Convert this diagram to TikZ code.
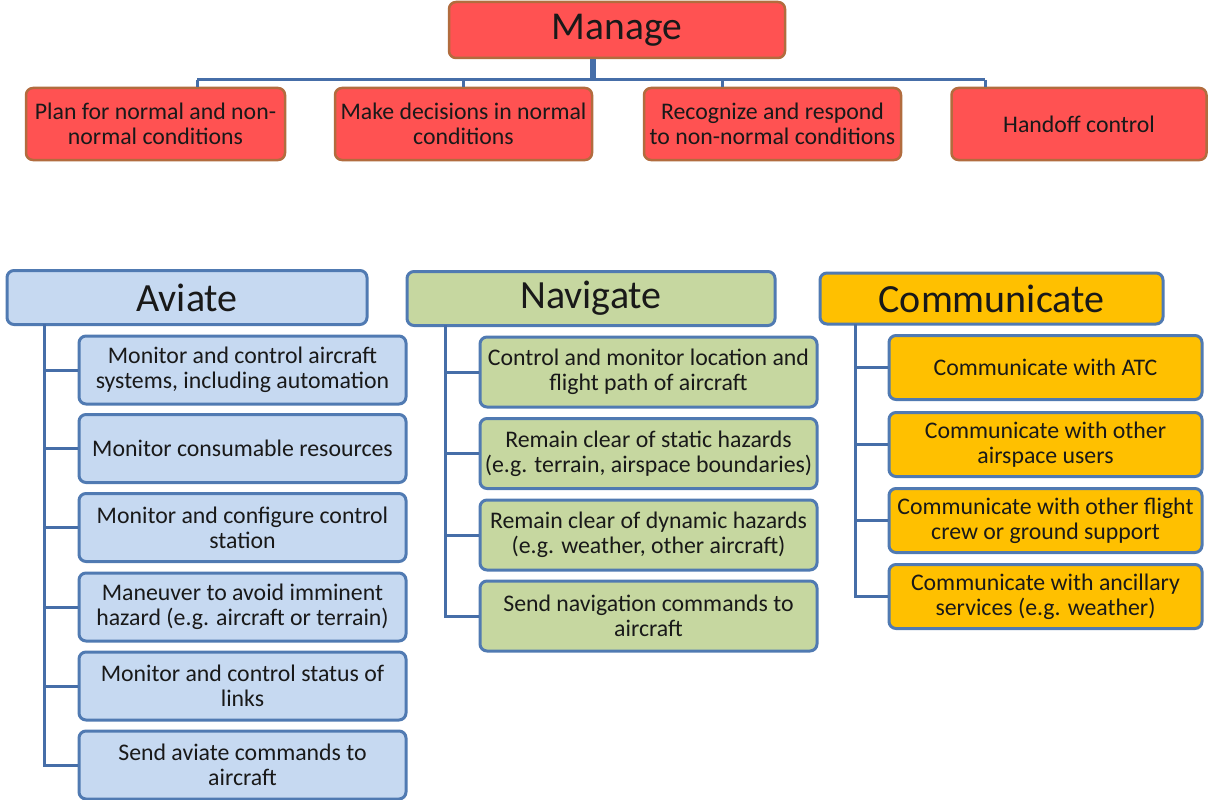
\documentclass[tikz,border=0pt]{standalone}
\usepackage{fontspec}
\setmainfont{Carlito}
\definecolor{redfill}{RGB}{255,82,82}
\definecolor{redline}{RGB}{178,108,62}
\definecolor{bluefill}{RGB}{198,217,241}
\definecolor{greenfill}{RGB}{198,215,160}
\definecolor{orangefill}{RGB}{255,192,0}
\definecolor{boxline}{RGB}{80,122,178}
\definecolor{conn}{RGB}{70,110,168}
\definecolor{txt}{RGB}{25,25,25}
\begin{document}
\begin{tikzpicture}[x=1pt,y=-1pt,
  base/.style={rounded corners=7pt, align=center, inner sep=0pt, text=txt},
  redbox/.style={base, fill=redfill, draw=redline, line width=2.5pt, font=\fontsize{23.8}{24.5}\selectfont},
  bigred/.style={redbox, font=\fontsize{39.5}{40}\selectfont},
  head/.style={base, draw=boxline, line width=3pt, font=\fontsize{40}{40}\selectfont},
  child/.style={base, draw=boxline, line width=3pt, font=\fontsize{23.8}{25}\selectfont},
  link/.style={draw=conn, line width=3pt},
  stem/.style={draw=conn, line width=6pt}
]
\useasboundingbox (0,0) rectangle (1208,800);
\fill[white] (0,0) rectangle (1208,800);

% ---- Manage ----
\node[bigred, minimum width=336pt, minimum height=56pt] (manage) at (617,30) {Manage};
\node[redbox, minimum width=259pt, minimum height=72pt] (m1) at (155.5,124) {Plan for normal and non-\\normal conditions};
\node[redbox, minimum width=257pt, minimum height=72pt] (m2) at (463.5,124) {Make decisions in normal\\conditions};
\node[redbox, minimum width=257pt, minimum height=72pt] (m3) at (772.5,124) {Recognize and respond\\to non-normal conditions};
\node[redbox, minimum width=255pt, minimum height=72pt] (m4) at (1079,124) {Handoff control};

\coordinate (bus) at (593,80);
\coordinate (d1) at (197,80);
\coordinate (d2) at (463,80);
\coordinate (d3) at (722,80);
\coordinate (d4) at (985,80);
\draw[link] (d1) -- (d4);
\draw[link] (d1) -- (d1 |- m1.north);
\draw[link] (d2) -- (d2 |- m2.north);
\draw[link] (d3) -- (d3 |- m3.north);
\draw[link] (d4) -- (d4 |- m4.north);
\draw[stem] (bus |- manage.south) -- ([yshift=1.5pt]bus);

% ---- Aviate ----
\node[head, fill=bluefill, minimum width=360pt, minimum height=54pt] (av) at (187,297.5) {Aviate};
\begin{scope}[every node/.style={child, fill=bluefill, minimum width=327pt, minimum height=68pt}]
\node (a1) at (242.5,370) {Monitor and control aircraft\\systems, including automation};
\node (a2) at (242.5,448.5) {Monitor consumable resources};
\node (a3) at (242.5,527.5) {Monitor and configure control\\station};
\node (a4) at (242.5,607) {Maneuver to avoid imminent\\hazard (e.g. aircraft or terrain)};
\node (a5) at (242.5,686) {Monitor and control status of\\links};
\node (a6) at (242.5,765) {Send aviate commands to\\aircraft};
\end{scope}
\coordinate (as) at (44,324);
\foreach \n in {a1,a2,a3,a4,a5,a6} \draw[link] (as) |- (\n.west);

% ---- Navigate ----
\node[head, fill=greenfill, minimum width=368pt, minimum height=54pt] (nv) at (591,298.5) {Navigate};
\begin{scope}[every node/.style={child, fill=greenfill, minimum width=337pt, minimum height=70pt}]
\node (n1) at (648.5,372) {Control and monitor location and\\flight path of aircraft};
\node (n2) at (648.5,453.5) {Remain clear of static hazards\\(e.g. terrain, airspace boundaries)};
\node (n3) at (648.5,535) {Remain clear of dynamic hazards\\(e.g. weather, other aircraft)};
\node (n4) at (648.5,616) {Send navigation commands to\\aircraft};
\end{scope}
\coordinate (ns) at (445,325);
\foreach \n in {n1,n2,n3,n4} \draw[link] (ns) |- (\n.west);

% ---- Communicate ----
\node[head, fill=orangefill, minimum width=343pt, minimum height=51pt] (cm) at (991.5,298.5) {Communicate};
\begin{scope}[every node/.style={child, fill=orangefill, minimum width=313pt, minimum height=64pt}]
\node (c1) at (1045.5,367.5) {Communicate with ATC};
\node (c2) at (1045.5,444.5) {Communicate with other\\airspace users};
\node (c3) at (1045.5,520.5) {Communicate with other flight\\crew or ground support};
\node (c4) at (1045.5,596.5) {Communicate with ancillary\\services (e.g. weather)};
\end{scope}
\coordinate (cs) at (855,324);
\foreach \n in {c1,c2,c3,c4} \draw[link] (cs) |- (\n.west);
\end{tikzpicture}
\end{document}
